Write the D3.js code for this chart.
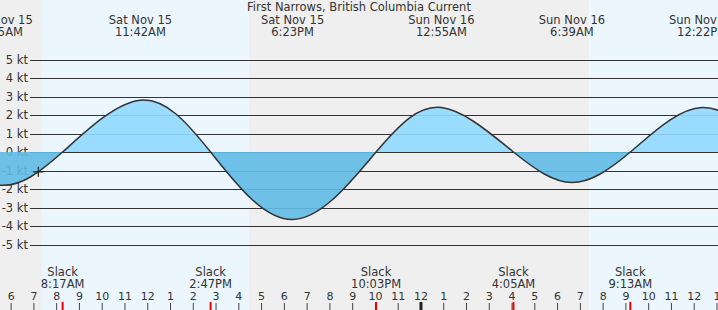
<html>
<head>
  <title>First Narrows current</title>
  <script src="https://cdn.jsdelivr.net/npm/d3@7"></script>
  <style>
    body { margin: 0; background: #fff; }
    text { font-family: "DejaVu Sans", sans-serif; fill: #333; }
  </style>
</head>
<body>
  <script>

	// tide events (time, knots); first and last are off-chart guesses
	var eventTimes = ["2025-11-15 02:50", "2025-11-15 05:35", "2025-11-15 08:17", "2025-11-15 11:42",
	                  "2025-11-15 14:47", "2025-11-15 18:23", "2025-11-15 22:03", "2025-11-16 00:55",
	                  "2025-11-16 04:05", "2025-11-16 06:39", "2025-11-16 09:13", "2025-11-16 12:22",
	                  "2025-11-16 15:30"];
	var eventValues = [0, -1.8, 0, 2.8, 0, -3.65, 0, 2.4, 0, -1.65, 0, 2.4, 0];

	var sunTimes = ["2025-11-15 07:23", "2025-11-15 16:28", "2025-11-16 07:25"];
	var timeDomain = ["2025-11-15 05:32", "2025-11-16 13:04"];
	var nowTime = "2025-11-15 07:13", nowValue = -1.07;
	var ktTicks = [-5, -4, -3, -2, -1, 0, 1, 2, 3, 4, 5];
	var title = "First Narrows, British Columbia Current";

	var W = 718, H = 310;
	var parse = d3.timeParse("%Y-%m-%d %H:%M");
	var fmtDay = d3.timeFormat("%a %b %-d"),
	    fmtTime = d3.timeFormat("%-I:%M%p"),
	    fmtHour = d3.timeFormat("%-I");

	var events = eventTimes.map(function(t, i){ return {t: parse(t), v: eventValues[i]}; });
	var sun = sunTimes.map(parse);

	var x = d3.scaleTime().domain(timeDomain.map(parse)).range([0, W]);
	var y = d3.scaleLinear().domain([-5, 5]).range([244.5, 59.5]);

	var svg = d3.select('body')
	            .append('svg')
	              .attr('width', W)
	              .attr('height', H);

	// night / day bands
	var edges = [x.domain()[0]].concat(sun, [x.domain()[1]]);
	svg.selectAll('rect.band')
	  .data(d3.pairs(edges))
	  .enter()
	  .append('rect')
	  .attr('class', 'band')
	  .attr('x', function(d){ return x(d[0]); })
	  .attr('width', function(d){ return x(d[1]) - x(d[0]); })
	  .attr('y', 0)
	  .attr('height', H)
	  .attr('fill', function(d, i){ return i % 2 ? '#ebf6fe' : '#efefef'; });

	// gridlines + kt labels
	var yAxis = svg.append('g')
	  .attr('transform', 'translate(30,0)')
	  .call(d3.axisLeft(y).tickValues(ktTicks).tickSize(-(W - 30)).tickPadding(2)
	    .tickFormat(function(d){ return d + ' kt'; }));
	yAxis.select('.domain').remove();
	yAxis.selectAll('line').attr('stroke', '#333').attr('shape-rendering', 'crispEdges');
	yAxis.selectAll('text').attr('font-size', 11.5).attr('fill', '#333');

	// flood / ebb fills, same area clipped above and below zero
	var defs = svg.append('defs');
	defs.append('clipPath').attr('id', 'above')
	  .append('rect').attr('x', 0).attr('y', 0).attr('width', W).attr('height', y(0));
	defs.append('clipPath').attr('id', 'below')
	  .append('rect').attr('x', 0).attr('y', y(0)).attr('width', W).attr('height', H - y(0));

	var area = d3.area()
	  .x(function(d){ return x(d.t); })
	  .y0(y(0))
	  .y1(function(d){ return y(d.v); })
	  .curve(d3.curveNatural);
	var line = d3.line()
	  .x(function(d){ return x(d.t); })
	  .y(function(d){ return y(d.v); })
	  .curve(d3.curveNatural);

	svg.append('path').datum(events).attr('d', area)
	  .attr('clip-path', 'url(#above)').attr('fill', '#90d9ff').attr('fill-opacity', 0.9);
	svg.append('path').datum(events).attr('d', area)
	  .attr('clip-path', 'url(#below)').attr('fill', '#5fbae4').attr('fill-opacity', 0.9);
	svg.append('path').datum(events).attr('d', line)
	  .attr('fill', 'none').attr('stroke', '#333').attr('stroke-width', 1.5);

	// "now" marker
	var nx = x(parse(nowTime)), ny = y(nowValue);
	svg.append('path')
	  .attr('d', 'M' + (nx - 5) + ',' + ny + 'H' + (nx + 5) + 'M' + nx + ',' + (ny - 5) + 'V' + (ny + 5))
	  .attr('stroke', '#222').attr('stroke-width', 1.2);

	// title
	svg.append('text').attr('x', W / 2).attr('y', 11)
	  .attr('text-anchor', 'middle').attr('font-size', 11.5).text(title);

	// max flood / ebb labels on top
	var peaks = events.filter(function(d){ return d.v !== 0; });
	var pg = svg.selectAll('g.peak').data(peaks).enter().append('g').attr('class', 'peak')
	  .attr('transform', function(d){ return 'translate(' + x(d.t) + ',0)'; });
	pg.append('text').attr('y', 24).attr('text-anchor', 'middle').attr('font-size', 11.5)
	  .text(function(d){ return fmtDay(d.t); });
	pg.append('text').attr('y', 36).attr('text-anchor', 'middle').attr('font-size', 11.5)
	  .text(function(d){ return fmtTime(d.t); });

	// slack labels at bottom
	var slacks = events.filter(function(d){ return d.v === 0 && d.t > x.domain()[0] && d.t < x.domain()[1]; });
	var sg = svg.selectAll('g.slack').data(slacks).enter().append('g').attr('class', 'slack')
	  .attr('transform', function(d){ return 'translate(' + x(d.t) + ',0)'; });
	sg.append('text').attr('y', 276).attr('text-anchor', 'middle').attr('font-size', 11.5).text('Slack');
	sg.append('text').attr('y', 288).attr('text-anchor', 'middle').attr('font-size', 11.5)
	  .text(function(d){ return fmtTime(d.t); });

	// hour axis
	var xAxis = svg.append('g')
	  .attr('transform', 'translate(0,' + H + ')')
	  .call(d3.axisTop(x).ticks(d3.timeHour.every(1)).tickFormat(fmtHour).tickSize(7).tickPadding(3));
	xAxis.select('.domain').remove();
	xAxis.selectAll('line').attr('stroke', '#444');
	xAxis.selectAll('text').attr('font-size', 11).attr('fill', '#333');
	xAxis.selectAll('.tick')
	  .filter(function(d){ return d.getHours() === 0; })
	  .select('line').attr('stroke', '#222').attr('stroke-width', 3).attr('y2', -8);

	svg.selectAll('line.slack')
	  .data(slacks)
	  .enter()
	  .append('line')
	  .attr('class', 'slack')
	  .attr('x1', function(d){ return x(d.t); })
	  .attr('x2', function(d){ return x(d.t); })
	  .attr('y1', H - 8)
	  .attr('y2', H)
	  .attr('stroke', '#e00')
	  .attr('stroke-width', 2);

  </script>
</body>
</html>
